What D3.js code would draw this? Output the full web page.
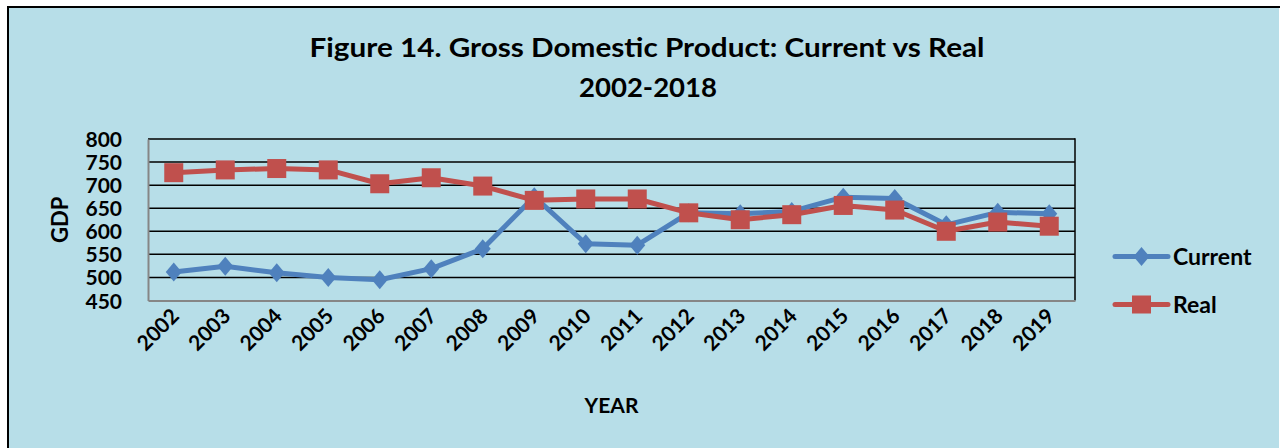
<!DOCTYPE html>
<html>
<head>
<meta charset="utf-8">
<script src="https://cdn.jsdelivr.net/npm/d3@7"></script>
<style>
  html, body { margin: 0; padding: 0; background: #ffffff; }
  svg { display: block; }
  text { font-family: "Lato", "Open Sans", sans-serif; font-weight: bold; fill: #000; }
</style>
</head>
<body>
<svg id="chart" width="1280" height="448"></svg>
<script>
const years = ["2002","2003","2004","2005","2006","2007","2008","2009","2010","2011","2012","2013","2014","2015","2016","2017","2018","2019"];
const currentGDP = [512, 524, 510, 500, 495, 519, 562, 675, 573, 570, 640, 638, 643, 674, 671, 614, 641, 638];
const realGDP = [727, 733, 736, 733, 703, 716, 698, 667, 670, 670, 640, 625, 636, 656, 646, 600, 620, 611];
const yTicks = [450, 500, 550, 600, 650, 700, 750, 800];
const seriesNames = ["Current", "Real"];
const titleLines = ["Figure 14. Gross Domestic Product:  Current vs Real", "2002-2018"];

const BLUE = "#4F81BD", RED = "#C0504D", BG = "#B7DEE8";

const svg = d3.select("#chart");

// chart background and border
svg.append("rect").attr("x", 8).attr("y", 7).attr("width", 1271).attr("height", 441).attr("fill", BG);
svg.append("line").attr("x1", 8).attr("x2", 8).attr("y1", 6).attr("y2", 448).attr("stroke", "#000").attr("stroke-width", 2);
svg.append("line").attr("x1", 7).attr("x2", 1280).attr("y1", 7).attr("y2", 7).attr("stroke", "#000").attr("stroke-width", 2);

// title
svg.append("text").attr("x", 647).attr("y", 57).attr("text-anchor", "middle")
  .style("font-size", "26px").attr("textLength", 675).attr("lengthAdjust", "spacingAndGlyphs").text(titleLines[0]);
svg.append("text").attr("x", 648).attr("y", 97).attr("text-anchor", "middle")
  .style("font-size", "26px").attr("textLength", 138).attr("lengthAdjust", "spacingAndGlyphs").text(titleLines[1]);

const L = 148, R = 1075, T = 139, B = 300.5;
const x = d3.scalePoint().domain(years).range([L, R]).padding(0.5);
const y = d3.scaleLinear().domain([450, 800]).range([B, T]);

// gridlines
const g = svg.append("g");
g.selectAll("line.grid").data(yTicks.filter(t => t !== 450)).enter().append("line")
  .attr("x1", L).attr("x2", R).attr("y1", d => y(d)).attr("y2", d => y(d))
  .attr("stroke", "#000").attr("stroke-width", 1.5);
// right border
g.append("line").attr("x1", R).attr("x2", R).attr("y1", T - 0.75).attr("y2", B).attr("stroke", "#000").attr("stroke-width", 1.5);

// axes
const yAxis = d3.axisLeft(y).tickValues(yTicks).tickSize(0).tickPadding(26);
const ya = svg.append("g").attr("transform", `translate(${L},0)`).call(yAxis);
ya.select(".domain").attr("stroke", "#868686").attr("stroke-width", 2);
ya.selectAll("text").style("font-size", "21px").style("font-family", "Lato, sans-serif").style("font-weight", "bold").attr("dy", "0.36em");

const xAxis = d3.axisBottom(x).tickSize(0).tickFormat(d => d);
const xa = svg.append("g").attr("transform", `translate(0,${B})`).call(xAxis);
xa.select(".domain").attr("stroke", "#868686").attr("stroke-width", 2);
xa.selectAll("text")
  .style("font-size", "21px").style("font-family", "Lato, sans-serif").style("font-weight", "bold")
  .attr("text-anchor", "end").attr("dy", 0).attr("y", 0)
  .attr("transform", "translate(6,17) rotate(-45)");

// axis titles
svg.append("text").attr("transform", `translate(68,${(T + B) / 2}) rotate(-90)`).attr("text-anchor", "middle")
  .style("font-size", "22px").text("GDP");
svg.append("text").attr("x", (L + R) / 2).attr("y", 413).attr("text-anchor", "middle")
  .style("font-size", "21px").text("YEAR");

// series
const line = d3.line().x((d, i) => x(years[i])).y(d => y(d));
const diamond = (cx, cy) => `M${cx},${cy - 9.5}L${cx + 8},${cy}L${cx},${cy + 9.5}L${cx - 8},${cy}Z`;

svg.append("path").datum(currentGDP).attr("d", line).attr("fill", "none").attr("stroke", BLUE).attr("stroke-width", 5).attr("stroke-linejoin", "round");
svg.selectAll("path.dia").data(currentGDP).enter().append("path").attr("class", "dia")
  .attr("d", (d, i) => diamond(x(years[i]), y(d))).attr("fill", BLUE);

svg.append("path").datum(realGDP).attr("d", line).attr("fill", "none").attr("stroke", RED).attr("stroke-width", 5).attr("stroke-linejoin", "round");
svg.selectAll("rect.sq").data(realGDP).enter().append("rect").attr("class", "sq")
  .attr("x", (d, i) => x(years[i]) - 9.5).attr("y", d => y(d) - 9.5).attr("width", 19).attr("height", 19).attr("fill", RED);

// legend
const leg = svg.append("g");
const legY = [256.5, 304.5];
const colors = [BLUE, RED];
seriesNames.forEach((name, i) => {
  leg.append("line").attr("x1", 1115).attr("x2", 1168).attr("y1", legY[i]).attr("y2", legY[i])
    .attr("stroke", colors[i]).attr("stroke-width", 5).attr("stroke-linecap", "round");
  if (i === 0) leg.append("path").attr("d", diamond(1141.5, legY[i])).attr("fill", BLUE);
  else leg.append("rect").attr("x", 1132).attr("y", legY[i] - 9).attr("width", 19).attr("height", 18).attr("fill", RED);
  leg.append("text").attr("x", 1173).attr("y", legY[i] + 8).style("font-size", "23px").text(name);
});
</script>
</body>
</html>
